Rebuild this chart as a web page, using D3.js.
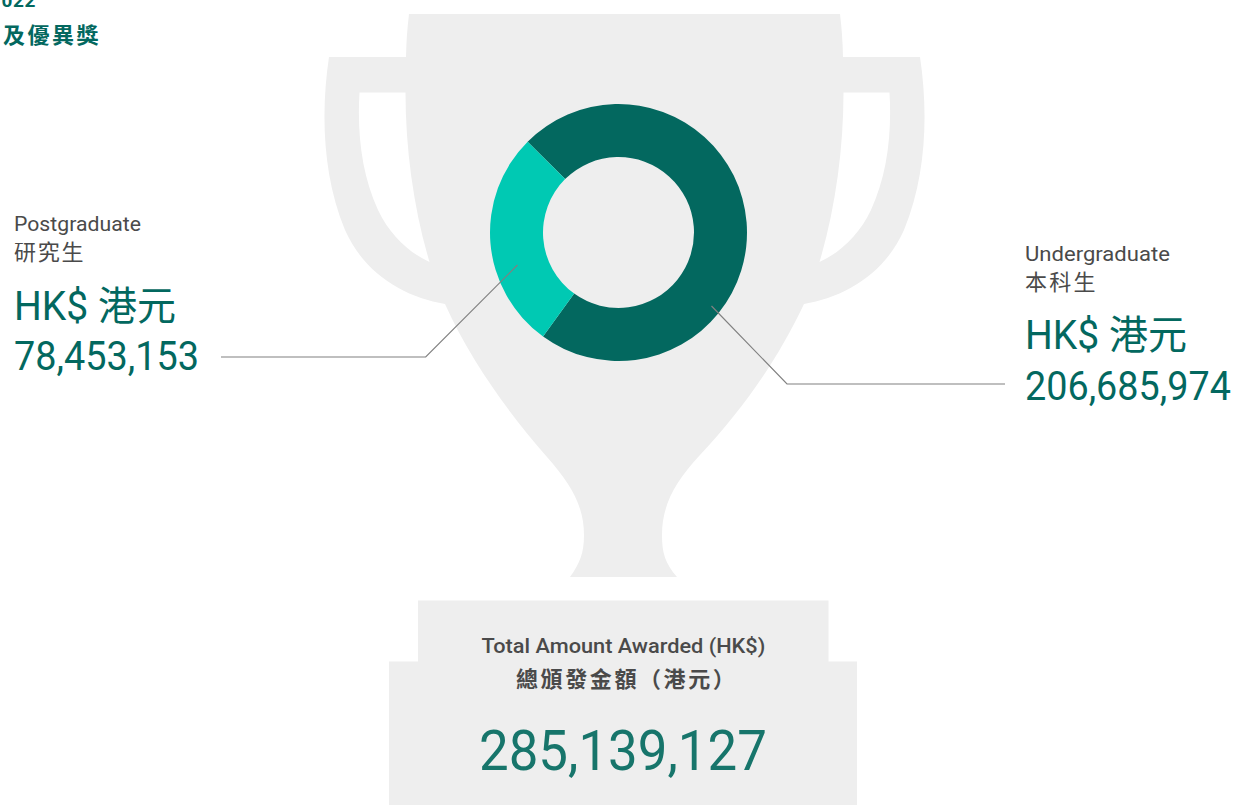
<!DOCTYPE html>
<html><head><meta charset="utf-8">
<script src="https://cdn.jsdelivr.net/npm/d3@7"></script>
<style>
html,body{margin:0;padding:0;background:#fff;overflow:hidden}
svg{display:block}
text{font-family:"Roboto","Noto Sans CJK TC",sans-serif}
</style></head><body>
<svg id="c" width="1236" height="805"></svg>
<script>
const categories = ["Undergraduate", "Postgraduate"];
const categoriesZh = ["本科生", "研究生"];
const amounts = [206685974, 78453153];
const total = 285139127;
const sliceColors = ["#03685f", "#00c9b3"];
const titleLines = ["022", "及優異獎"];
const totalLabels = ["Total Amount Awarded (HK$)", "總頒發金額（港元）"];
const currencyLabel = "HK$ 港元";

const svg = d3.select("#c");
const fmt = d3.format(",");
const GREY = "#eeeeee", DARK = "#4a4a4a", GREEN = "#03685f";

// trophy silhouette, traced outline (decoration, handles mirrored about x = 624.5)
const m = x => 1249 - x;
const outline = [
  `M329,57 L406,57 Q406.5,34 409,14 L840,14 Q842.5,34 843,57 L${m(329)},57`,
  `C${m(321)},110 ${m(322)},175 ${m(345)},230`,
  `C${m(365)},275 ${m(405)},297 ${m(445)},304`,
  `C775,365 740,412 700,455 C675,482 662,505 662,535 C662,553 665,563 677,577`,
  `L570,577 C580,563 584,553 584,535 C584,505 570,483 547,457 C510,415 470,360 445,304`,
  `C405,297 365,275 345,230 C322,175 321,110 329,57 Z`
].join(" ");
const holeL = `M359.5,92.5 L405.5,92.5 C405.5,150 414,210 429.5,262 C408,252 390,235 378,210 C362,175 357,135 359.5,92.5 Z`;
const holeR = `M${m(359.5)},92.5 L${m(405.5)},92.5 C${m(405.5)},150 ${m(414)},210 ${m(429.5)},262 C${m(408)},252 ${m(390)},235 ${m(378)},210 C${m(362)},175 ${m(357)},135 ${m(359.5)},92.5 Z`;
svg.append("path").attr("fill", GREY).attr("fill-rule", "evenodd").attr("d", outline + " " + holeL + " " + holeR);
svg.append("rect").attr("x", 418).attr("y", 600.5).attr("width", 410.5).attr("height", 62).attr("fill", GREY);
svg.append("rect").attr("x", 389).attr("y", 661.5).attr("width", 468).attr("height", 143.5).attr("fill", GREY);

// donut
const pie = d3.pie().sort(null).startAngle(-Math.PI / 4).endAngle(2 * Math.PI - Math.PI / 4);
const arc = d3.arc().innerRadius(75.5).outerRadius(128.5);
svg.append("g").attr("transform", "translate(618.5,232.5)")
  .selectAll("path").data(pie(amounts)).join("path")
  .attr("d", arc).attr("fill", (d, i) => sliceColors[i]);

// leader lines
const line = d3.line();
[[[711.5,306],[787,384],[1005,384]], [[517.5,265],[425.7,357],[221,357]]].forEach(p =>
  svg.append("path").attr("d", line(p)).attr("fill", "none").attr("stroke", "#808080").attr("stroke-width", 1.2));

function t(s, x, y, size, fill, opt = {}) {
  const e = svg.append("text").text(s)
    .attr("font-size", size).attr("fill", fill).attr("font-weight", opt.w || 400);
  if (opt.ls != null) e.attr("letter-spacing", opt.ls);
  const sx = opt.len ? opt.len / e.node().getComputedTextLength() : 1;
  e.attr("transform", `translate(${x},${y}) scale(${sx},1)`);
  return e;
}

// header (clipped at top)
t(titleLines[0], 1.5, 7, 19, GREEN, {w: 700, ls: 0.6});
t(titleLines[1], 3, 43, 22, GREEN, {w: 700, ls: 2.5});

// postgraduate
t(categories[1], 14, 231, 20, DARK, {len: 127});
t(categoriesZh[1], 14, 260, 22, DARK, {ls: 1.8});
t(currencyLabel, 14, 320, 40, GREEN, {len: 162});
t(fmt(amounts[1]), 14, 370, 41, GREEN, {len: 185});

// undergraduate
t(categories[0], 1025, 261, 20, DARK, {len: 145});
t(categoriesZh[0], 1025, 290, 22, DARK, {ls: 2.2});
t(currencyLabel, 1025, 349, 40, GREEN, {len: 162});
t(fmt(amounts[0]), 1025, 400, 41, GREEN, {len: 206});

// total
t(totalLabels[0], 481.5, 653, 20, DARK, {w: 500, len: 284});
t(totalLabels[1], 516, 687, 22, DARK, {w: 700, ls: 2.6});
t(fmt(total), 479, 770, 56, "#17756b", {len: 288});
</script>
</body></html>
